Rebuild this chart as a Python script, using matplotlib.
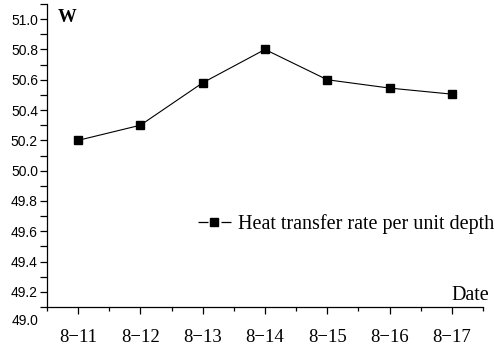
import matplotlib.pyplot as plt
from matplotlib.lines import Line2D
from matplotlib.ticker import MultipleLocator

# data
dates = ['8\u221211', '8\u221212', '8\u221213', '8\u221214', '8\u221215', '8\u221216', '8\u221217']
heat_rate = [50.20, 50.30, 50.58, 50.80, 50.60, 50.545, 50.505]
y_ticks = [49.2, 49.4, 49.6, 49.8, 50.0, 50.2, 50.4, 50.6, 50.8, 51.0]

W, H = 495, 354
fig = plt.figure(figsize=(W / 100, H / 100), dpi=100)
ax = fig.add_axes([47 / W, (H - 307) / H, (483 - 47) / W, (307 - 4) / H])

x = list(range(len(dates)))
ax.plot(x, heat_rate, color='black', lw=0.8, marker='s', ms=5.2)

ax.set_xlim(-0.5, len(dates) - 0.5)
ax.set_ylim(49.1, 51.1)
ax.set_xticks(x)
ax.set_xticklabels(dates, family='Liberation Serif', fontsize=13.5)
ax.xaxis.set_minor_locator(MultipleLocator(0.5))
ax.set_yticks(y_ticks)
ax.set_yticklabels(['%.1f' % v for v in y_ticks], family='Liberation Sans', fontsize=10)
ax.yaxis.set_minor_locator(MultipleLocator(0.1))

for s in ['top', 'right']:
    ax.spines[s].set_visible(False)
for s in ['left', 'bottom']:
    ax.spines[s].set_linewidth(0.9)

ax.tick_params(axis='x', which='major', direction='out', length=5, width=0.9, pad=10.5)
ax.tick_params(axis='x', which='minor', direction='out', length=3, width=0.9)
ax.tick_params(axis='y', which='both', direction='out', length=5, width=0.9, pad=1.5)

# the 49.0 label sits below the x axis, without a tick
fig.text(38 / W, (H - 321) / H, '49.0', ha='right', va='center',
         family='Liberation Sans', fontsize=10)

fig.text(58 / W, (H - 17) / H, 'W', ha='left', va='center',
         family='Liberation Serif', fontweight='bold', fontsize=13.5)
fig.text(489 / W, (H - 296) / H, 'Date', ha='right', va='center',
         family='Liberation Serif', fontsize=14.5)

# legend handle: dash, gap, square, gap, dash
proxy = Line2D([], [], color='black', lw=0.9, marker='s', ms=5.2,
               dashes=(8, 10.4, 8, 10))
ax.legend([proxy], ['Heat transfer rate per unit depth'],
          loc='center right', bbox_to_anchor=(494 / W, (H - 224) / H),
          bbox_transform=fig.transFigure, frameon=False,
          prop={'family': 'Liberation Serif', 'size': 14.5},
          handlelength=1.64, handletextpad=0.35, borderpad=0, borderaxespad=0)

fig.savefig('out.png', dpi=100)
